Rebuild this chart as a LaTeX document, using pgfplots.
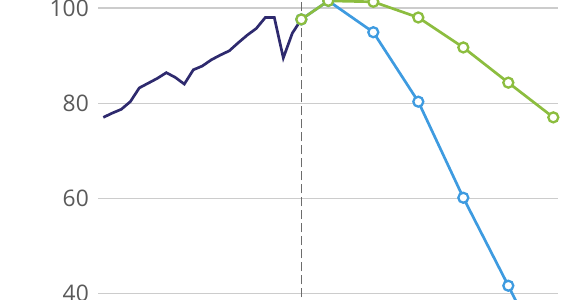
\documentclass[border=0pt]{standalone}
\usepackage{pgfplots}
\pgfplotsset{compat=1.18}
\usepackage{fontspec}
\setmainfont{Open Sans}
\definecolor{navyc}{HTML}{2E2A6E}
\definecolor{greenc}{HTML}{8CBD3F}
\definecolor{bluec}{HTML}{3E9BE0}
\definecolor{gridc}{HTML}{CCCCCC}
\definecolor{labc}{HTML}{5A5A5A}
\begin{document}
\begin{tikzpicture}
\path[use as bounding box] (0,0) rectangle (292.5pt,150pt);
\clip (0,0) rectangle (292.5pt,150pt);
\begin{axis}[
  at={(49pt,0pt)}, anchor=south west,
  scale only axis, width=230pt, height=150pt,
  xmin=-0.59, xmax=50.52, ymin=38.6, ymax=101.68,
  axis line style={draw=none},
  ytick={40,60,80,100}, xtick=\empty,
  ymajorgrids, grid style={gridc, line width=0.6pt},
  major tick length=0pt,
  tick label style={font=\fontsize{11.4pt}{13pt}\selectfont, text=labc},
  /pgf/number format/assume math mode=true,
  yticklabel style={anchor=east, inner sep=0pt, xshift=-4.4pt},
  clip=false,
]
\addplot[gray!85!black, line width=0.65pt, dash pattern=on 4.5pt off 2pt] coordinates {(22,20) (22,110)};
\addplot[navyc, line width=1.35pt] coordinates {
(0,77.0) (1,77.9) (2,78.7) (3,80.3) (4,83.2) (5,84.2) (6,85.2) (7,86.4) (8,85.4)
(9,84.0) (10,87.0) (11,87.8) (12,89.1) (13,90.1) (14,91.0) (15,92.7) (16,94.3)
(17,95.7) (18,98.0) (19,98.0) (20,89.5) (21,94.7) (22,97.6)};
\addplot[bluec, line width=1.35pt, mark=*, mark size=2.5pt, mark options={fill=white, line width=1.15pt}] coordinates {
(22,97.6) (25,101.5) (30,94.9) (35,80.3) (40,60.1) (45,41.6) (50,22.5)};
\addplot[greenc, line width=1.35pt, mark=*, mark size=2.5pt, mark options={fill=white, line width=1.15pt}] coordinates {
(22,97.6) (25,101.5) (30,101.3) (35,98.0) (40,91.7) (45,84.3) (50,77.0)};
\end{axis}
\end{tikzpicture}
\end{document}
